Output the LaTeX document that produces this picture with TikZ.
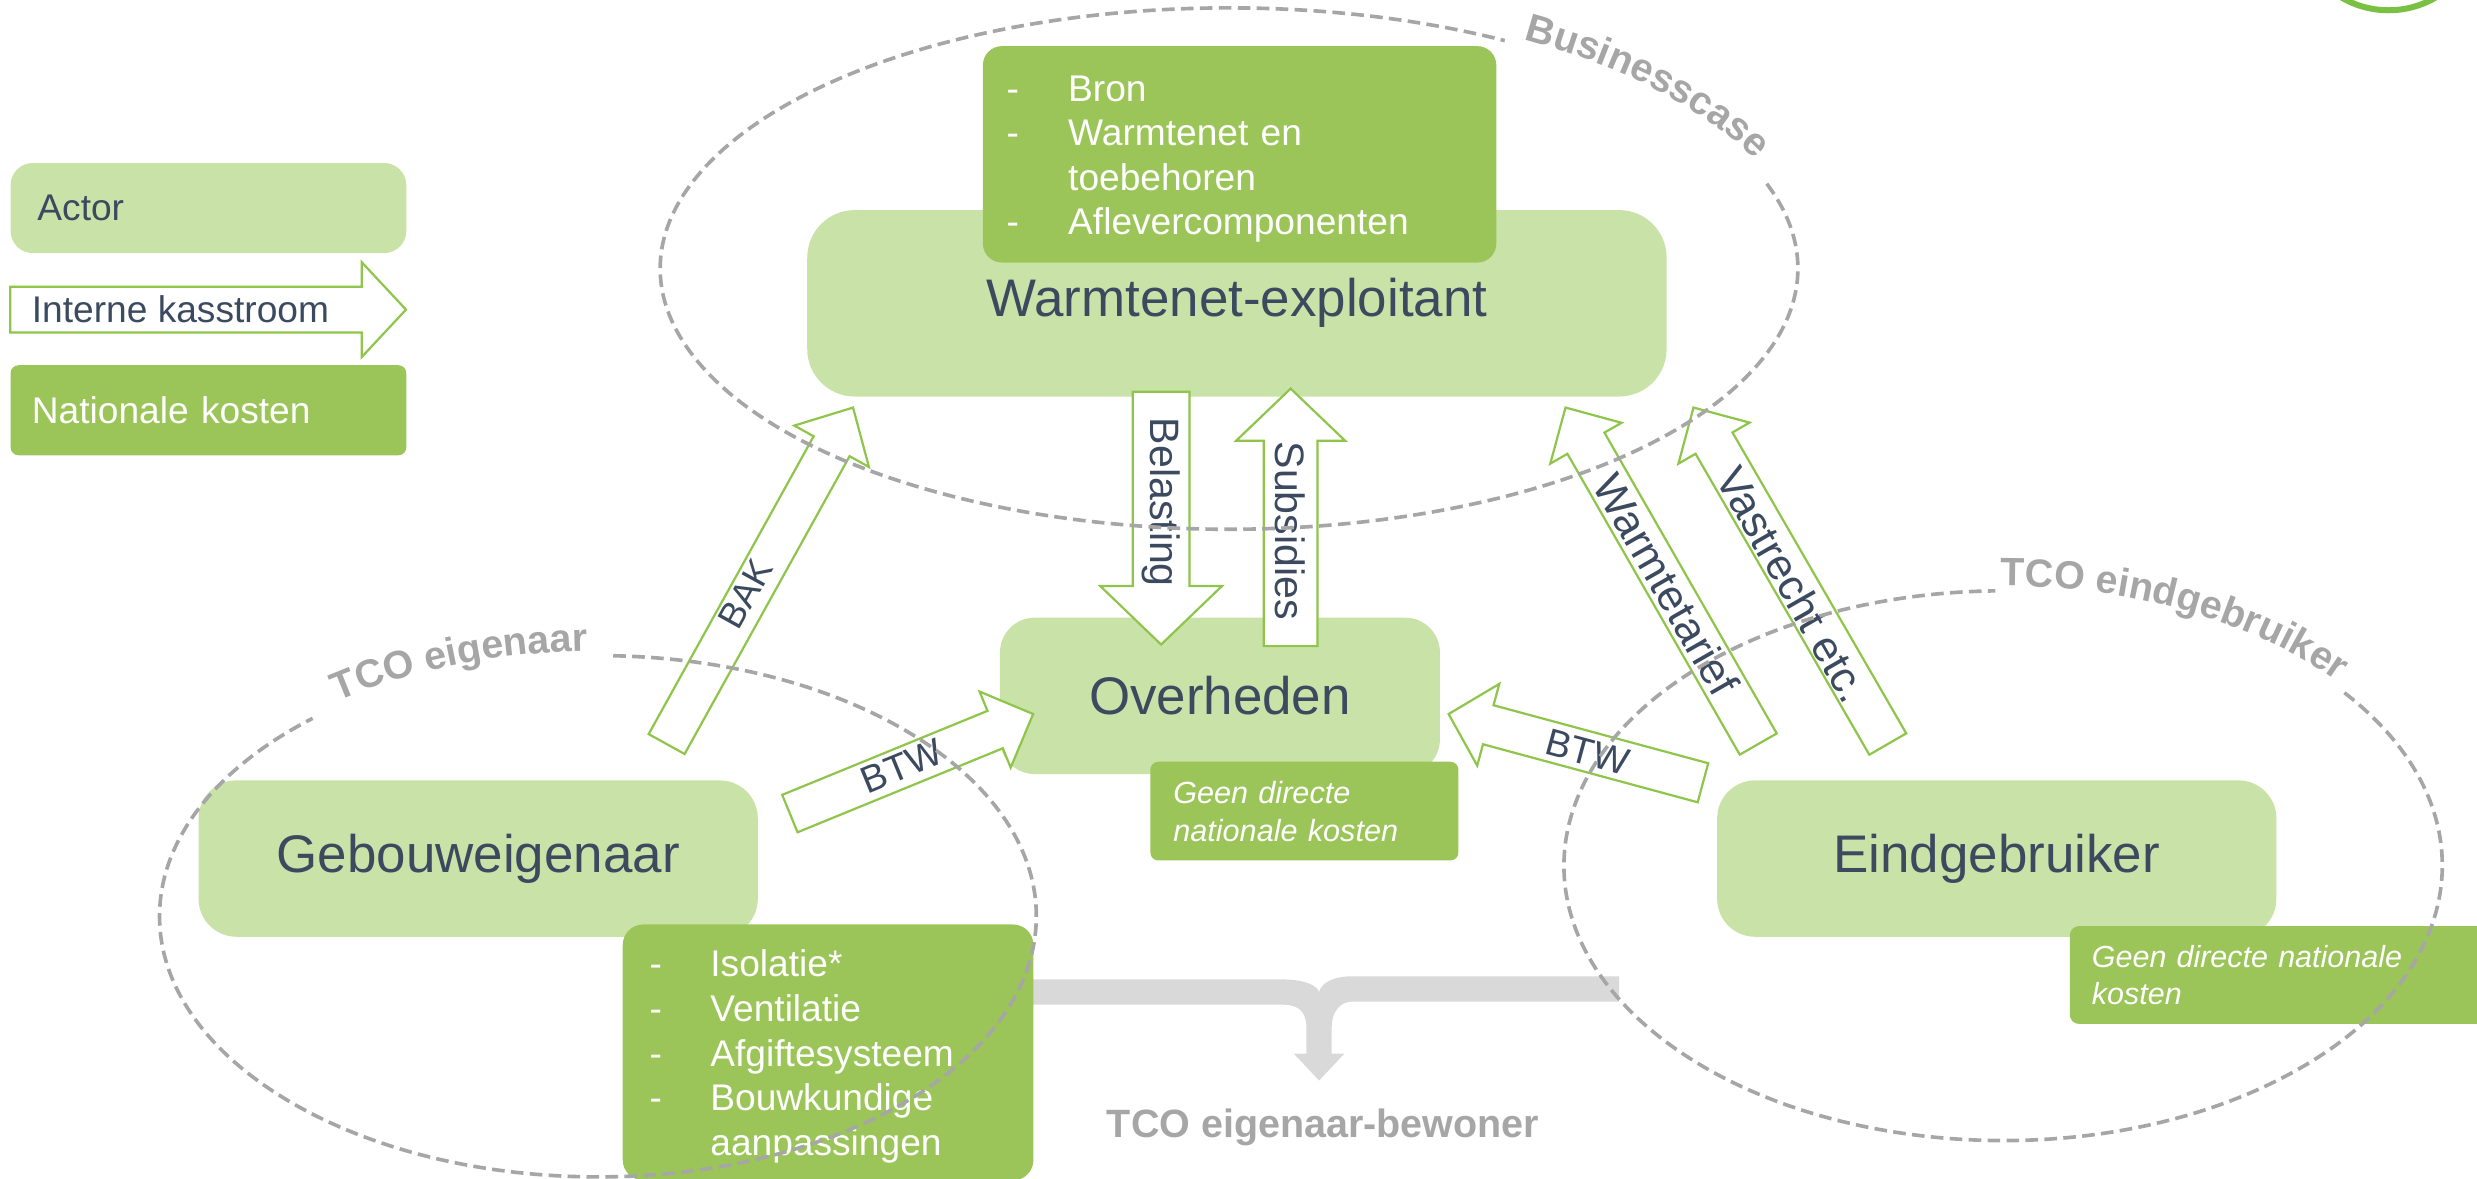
\documentclass[tikz,border=0pt]{standalone}
\usepackage{fontspec}
\setmainfont{Liberation Sans}
\usetikzlibrary{calc,decorations.text}
\definecolor{lgreen}{HTML}{C9E2A7}
\definecolor{dgreen}{HTML}{9BC558}
\definecolor{agreen}{HTML}{8FC54A}
\definecolor{ringgreen}{HTML}{7AC143}
\definecolor{txt}{HTML}{3B4A5F}
\definecolor{lgray}{HTML}{A6A6A6}
\definecolor{bgray}{HTML}{D9D9D9}
\newcommand\fsz[2]{\fontsize{#1}{#2}\selectfont}
\newcommand\glabelfont{\fontsize{25}{30}\selectfont\bfseries\color{lgray}}
% #1 tail, #2 tip, #3 half shaft width, #4 half head width, #5 head length
\newcommand\blockarrow[5]{%
  \draw[flow] ($(#1)!#3!90:(#2)$) -- ($(#2)!#5!(#1)!#3!-90:(#1)$)
    -- ($(#2)!#5!(#1)!#4!-90:(#1)$) -- (#2)
    -- ($(#2)!#5!(#1)!#4!90:(#1)$) -- ($(#2)!#5!(#1)!#3!90:(#1)$)
    -- ($(#1)!#3!-90:(#2)$) -- cycle;}
\begin{document}
\begin{tikzpicture}[x=1pt,y=-1pt,
  actor/.style={fill=lgreen, text=txt, font=\fsz{33.5}{40}, inner sep=0pt, rounded corners=24pt},
  cost/.style={fill=dgreen, text=white, inner sep=0pt},
  flow/.style={draw=agreen, fill=white, line width=1.4pt, line join=miter},
  flowlabel/.style={text=txt, inner sep=0pt},
  boundary/.style={draw=lgray, line width=2.3pt, dash pattern=on 8pt off 4pt},
  glabel/.style={text=lgray, font=\fsz{25}{30}\bfseries, inner sep=0pt}]
\useasboundingbox (0,0) rectangle (1568,746);
\clip (0,0) rectangle (1568,746);

% brace towards TCO eigenaar-bewoner
\fill[bgray] (654,620) -- (812,620) .. controls (826,620) and (834,624) .. (835,628)
  .. controls (836,623) and (843,618) .. (856,618) -- (1025,618) -- (1025,634) -- (856,634)
  .. controls (848,634) and (843,641) .. (843,650) -- (843,667) -- (851,667) -- (835,684)
  -- (819,667) -- (827,667) -- (827,650) .. controls (827,641) and (822,636) .. (813,636)
  -- (654,636) -- cycle;
\node[glabel, anchor=base] (tcoeb) at (837.5,720) {TCO eigenaar-bewoner};

% legend
\node[actor, rounded corners=14pt, anchor=north west, minimum height=57pt, text width=216.5pt,
  inner xsep=17pt, align=left, font=\fsz{23.5}{28}] (legactor) at (6.5,103) {Actor};
\coordinate (legS) at (6.5,196);
\coordinate (legE) at (257,196);
\blockarrow{legS}{legE}{14.5pt}{30pt}{28pt}
\node[flowlabel, anchor=base west, font=\fsz{23.5}{28}] (legflow) at (20,204) {Interne kasstroom};
\node[cost, rounded corners=5pt, anchor=north west, minimum height=57pt, text width=223.5pt,
  inner xsep=13.5pt, align=left, font=\fsz{23.5}{28}] (legcost) at (6.5,231) {Nationale kosten};

% actors
\node[actor, rounded corners=30pt, minimum width=544pt, minimum height=118pt] (wx) at (783,192) {Warmtenet-exploitant};
\node[actor, rounded corners=22pt, minimum width=278.5pt, minimum height=99pt] (ov) at (772.25,440.5) {Overheden};
\node[actor, minimum width=354pt, minimum height=99pt] (ge) at (302.7,543.5) {Gebouweigenaar};
\node[actor, minimum width=354pt, minimum height=99pt] (eg) at (1264,543.5) {Eindgebruiker};

% national costs
\node[cost, rounded corners=12pt, anchor=north west, text width=295pt, inner xsep=15pt,
  minimum height=137pt, align=left, font=\fsz{23.5}{28}] (wxcost) at (622,29)
  {\raisebox{-3pt}[\height][\depth]{\begin{tabular}{@{}p{39pt}@{}l@{}}
   -&Bron\\ -&Warmtenet en\\ &toebehoren\\ -&Aflevercomponenten\end{tabular}}};
\node[cost, rounded corners=13pt, anchor=north west, text width=226pt, inner xsep=17pt,
  minimum height=162pt, align=left, font=\fsz{23.5}{28.4}] (gecost) at (394,585)
  {\raisebox{-3pt}[\height][\depth]{\begin{tabular}{@{}p{38.5pt}@{}l@{}}
   -&Isolatie*\\ -&Ventilatie\\ -&Afgiftesysteem\\ -&Bouwkundige\\ &aanpassingen\end{tabular}}};
\node[cost, rounded corners=5pt, anchor=north west, text width=166pt, inner xsep=14.5pt,
  minimum height=62.5pt, align=left, font=\fsz{19.4}{24}\itshape] (ovcost) at (728,482)
  {Geen directe\\nationale kosten};
\node[cost, rounded corners=6pt, anchor=north west, text width=242pt, inner xsep=14pt,
  minimum height=62pt, align=left, font=\fsz{19.3}{23}\itshape] (egcost) at (1310,586)
  {Geen directe nationale\\kosten};

% cash flows
\coordinate (bakS) at (422,471);   \coordinate (bakE) at (540,258);
\coordinate (belS) at (735,248);   \coordinate (belE) at (735,408);
\coordinate (subS) at (817,409);   \coordinate (subE) at (817,246);
\coordinate (wtS) at (1113,471);   \coordinate (wtE) at (991,258);
\coordinate (vrS) at (1195,471);   \coordinate (vrE) at (1072,258);
\coordinate (btwlS) at (500,515);  \coordinate (btwlE) at (654,452);
\coordinate (btwrS) at (1078,495.5); \coordinate (btwrE) at (917,452);
\blockarrow{bakS}{bakE}{13pt}{27pt}{28pt}
\blockarrow{belS}{belE}{18pt}{38.5pt}{37pt}
\blockarrow{subS}{subE}{17pt}{34.5pt}{33pt}
\blockarrow{wtS}{wtE}{13.5pt}{26pt}{26pt}
\blockarrow{vrS}{vrE}{13.5pt}{26pt}{26pt}
\blockarrow{btwlS}{btwlE}{12.8pt}{26pt}{26pt}
\blockarrow{btwrS}{btwrE}{12.8pt}{26.8pt}{26pt}
\node[flowlabel, rotate=61, font=\fsz{23}{28}] (bakL) at (472,376) {BAK};
\node[flowlabel, rotate=-90, font=\fsz{26}{30}] (belL) at (735,318) {Belasting};
\node[flowlabel, rotate=-90, font=\fsz{26}{30}] (subL) at (817,336) {Subsidies};
\node[flowlabel, rotate=-60.2, font=\fsz{27.5}{32}] (wtL) at (1055,370) {Warmtetarief};
\node[flowlabel, rotate=-60.2, font=\fsz{27.5}{32}] (vrL) at (1135,370) {Vastrecht etc.};
\node[flowlabel, rotate=22.2, font=\fsz{24}{28}] (btwlL) at (571,485) {BTW};
\node[flowlabel, rotate=-15.1, font=\fsz{24}{28}] (btwrL) at (1005,476) {BTW};

% boundaries
\draw[boundary] (778,170) ++(-19:360 and 165) arc[start angle=-19, end angle=299, x radius=360, y radius=165];
\path[decorate, decoration={text along path, text={|\glabelfont|Businesscase}, text align=center}]
  (778,170) ++(-64:364 and 169) arc[start angle=-64, end angle=-16, x radius=364, y radius=169];
\draw[boundary] (378.5,580) ++(-88:277.5 and 165) arc[start angle=-88, end angle=229.4, x radius=277.5, y radius=165];
\path[decorate, decoration={text along path, text={|\glabelfont|TCO eigenaar}, text align=center}]
  (378.5,580) ++(-132:281 and 168) arc[start angle=-132, end angle=-86, x radius=281, y radius=168];
\draw[boundary] (1268,548) ++(-39:278 and 174) arc[start angle=-39, end angle=269, x radius=278, y radius=174];
\path[decorate, decoration={text along path, text={|\glabelfont|TCO eindgebruiker}, text align=center}]
  (1268,548) ++(-96:281 and 177) arc[start angle=-96, end angle=-34, x radius=281, y radius=177];

% logo ring (cut off)
\draw[ringgreen, line width=3.8pt] (1512,-52.5) circle[radius=59];
\end{tikzpicture}
\end{document}
